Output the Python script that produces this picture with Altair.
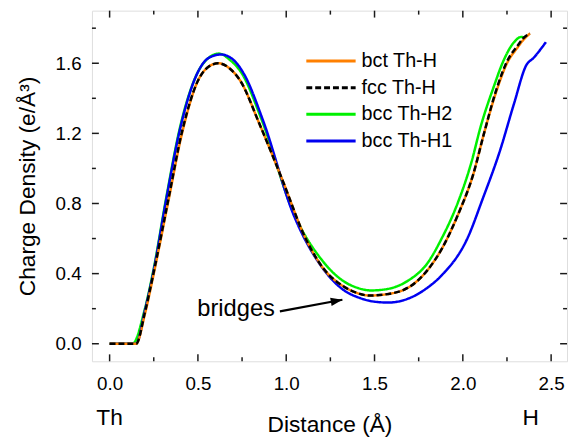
import altair as alt
import pandas as pd

# ---- data ----
series_names = ["bct Th-H", "fcc Th-H", "bcc Th-H2", "bcc Th-H1"]
series_colors = ["#FF8000", "#000000", "#00F000", "#0000F0"]

bct_x = [0.0, 0.15, 0.20, 0.25, 0.33, 0.41, 0.50, 0.56, 0.615, 0.68, 0.74, 0.85, 0.98, 1.11, 1.21, 1.32, 1.40, 1.47,
         1.55, 1.69, 1.80, 1.88, 1.97, 2.06, 2.12, 2.19, 2.25, 2.31, 2.34, 2.38]
bct_y = [0.0, 0.0, 0.17, 0.40, 0.80, 1.20, 1.50, 1.58, 1.60, 1.57, 1.50, 1.25, 0.93, 0.60, 0.43, 0.33, 0.29, 0.275,
         0.28, 0.32, 0.42, 0.54, 0.73, 0.97, 1.20, 1.44, 1.60, 1.69, 1.73, 1.77]

fcc_x = [0.0, 0.15, 0.20, 0.25, 0.33, 0.41, 0.50, 0.56, 0.615, 0.68, 0.74, 0.85, 0.98, 1.11, 1.21, 1.32, 1.40, 1.47,
         1.55, 1.69, 1.80, 1.88, 1.97, 2.06, 2.12, 2.19, 2.25, 2.31, 2.34, 2.38]
fcc_y = [0.0, 0.0, 0.18, 0.41, 0.81, 1.21, 1.50, 1.58, 1.60, 1.57, 1.50, 1.25, 0.93, 0.60, 0.43, 0.33, 0.29, 0.275,
         0.28, 0.32, 0.42, 0.54, 0.73, 0.97, 1.20, 1.45, 1.61, 1.70, 1.74, 1.77]

h2_x = [0.0, 0.13, 0.20, 0.25, 0.32, 0.40, 0.50, 0.56, 0.62, 0.68, 0.75, 0.86, 1.04, 1.20, 1.32, 1.40, 1.48, 1.56,
        1.69, 1.80, 1.88, 1.97, 2.05, 2.10, 2.18, 2.22, 2.29, 2.33, 2.35]
h2_y = [0.0, 0.0, 0.20, 0.43, 0.83, 1.24, 1.55, 1.63, 1.655, 1.62, 1.54, 1.28, 0.75, 0.48, 0.36, 0.32, 0.304, 0.31,
        0.36, 0.46, 0.60, 0.80, 1.04, 1.235, 1.48, 1.59, 1.72, 1.75, 1.745]

h1_x = [0.0, 0.15, 0.20, 0.25, 0.32, 0.40, 0.50, 0.56, 0.63, 0.70, 0.76, 0.87, 1.04, 1.20, 1.32, 1.42, 1.50, 1.58,
        1.69, 1.80, 1.88, 2.03, 2.11, 2.21, 2.29, 2.36, 2.40, 2.47]
h1_y = [0.0, 0.0, 0.19, 0.42, 0.82, 1.23, 1.55, 1.63, 1.65, 1.62, 1.54, 1.27, 0.74, 0.44, 0.31, 0.26, 0.24, 0.235,
        0.257, 0.32, 0.39, 0.61, 0.82, 1.10, 1.37, 1.59, 1.63, 1.72]

x_major = [0.0, 0.5, 1.0, 1.5, 2.0, 2.5]
x_minor = [0.25, 0.75, 1.25, 1.75, 2.25]
y_major = [0.0, 0.4, 0.8, 1.2, 1.6]
y_minor = [0.2, 0.6, 1.0, 1.4, 1.8]

end_labels_x = [0.0, 2.385]
end_labels_text = ["Th", "H"]

note_text = ["bridges"]
note_x = [0.716]
note_y = [0.20]
arrow_x = [0.964]
arrow_y = [0.185]
arrow_x2 = [1.318]
arrow_y2 = [0.251]

# ---- build tables ----
rows = []
for name, xs, ys in [("bct Th-H", bct_x, bct_y), ("fcc Th-H", fcc_x, fcc_y),
                     ("bcc Th-H2", h2_x, h2_y), ("bcc Th-H1", h1_x, h1_y)]:
    for i, (xv, yv) in enumerate(zip(xs, ys)):
        rows.append({"series": name, "x": xv, "y": yv, "order": i})
df = pd.DataFrame(rows)

W, H = 481, 355
FONT = "Liberation Sans"
FRAME = "#1a1a1a"
XDOM = [-0.1, 2.59]
YDOM = [-0.1, 1.9]

xscale = alt.Scale(domain=XDOM, nice=False, zero=False)
yscale = alt.Scale(domain=YDOM, nice=False, zero=False)

# legend: a wide custom stroke path keeps the rows compact
leg = alt.Legend(orient="none", legendX=213, legendY=41, title=None, symbolType="M-3,0L3,0",
                 symbolSize=277, symbolStrokeWidth=3, symbolOffset=19, symbolFillColor="transparent",
                 labelFontSize=20, labelFont=FONT, labelOffset=21, rowPadding=7, padding=0,
                 labelColor="#000")

color = alt.Color("series:N", scale=alt.Scale(domain=series_names, range=series_colors), legend=leg)
dash = alt.StrokeDash("series:N", scale=alt.Scale(domain=series_names, range=[[1, 0], [6, 3], [1, 0], [1, 0]]),
                      legend=leg)

xenc = alt.X("x:Q", scale=xscale,
             axis=alt.Axis(values=x_major, format=".1f", title="Distance (Å)", ticks=False, tickSize=0,
                           domain=False, grid=False, labelFontSize=19, titleFontSize=23, labelPadding=14,
                           titleY=71, titleBaseline="alphabetic", labelColor="#000", titleColor="#000",
                           titleFontWeight="normal", labelFont=FONT, titleFont=FONT))
yenc = alt.Y("y:Q", scale=yscale,
             axis=alt.Axis(values=y_major, format=".1f", title="Charge Density (e/Å³)", ticks=False, tickSize=0,
                           domain=False, grid=False, labelFontSize=19, titleFontSize=23, labelPadding=11,
                           titleX=-58, titleBaseline="alphabetic", labelColor="#000", titleColor="#000",
                           titleFontWeight="normal", labelFont=FONT, titleFont=FONT))


def line_layer(name):
    return alt.Chart(df).transform_filter(alt.datum.series == name).mark_line(
        strokeWidth=2.5, interpolate="monotone").encode(
        x=xenc, y=yenc, color=color, strokeDash=dash, order="order:Q")


lines = [line_layer("bcc Th-H2"), line_layer("bcc Th-H1"), line_layer("bct Th-H"), line_layer("fcc Th-H")]

# inward tick marks (tick length converted from pixels to data units)
px_x = (XDOM[1] - XDOM[0]) / W
px_y = (YDOM[1] - YDOM[0]) / H


def xtick_df(vals, length):
    recs = []
    for v in vals:
        recs.append({"x": v, "x2": v, "y": YDOM[0], "y2": YDOM[0] + length * px_y})
        recs.append({"x": v, "x2": v, "y": YDOM[1], "y2": YDOM[1] - length * px_y})
    return recs


def ytick_df(vals, length):
    recs = []
    for v in vals:
        recs.append({"x": XDOM[0], "x2": XDOM[0] + length * px_x, "y": v, "y2": v})
        recs.append({"x": XDOM[1], "x2": XDOM[1] - length * px_x, "y": v, "y2": v})
    return recs


tick_df = pd.DataFrame(xtick_df(x_major, 7) + xtick_df(x_minor, 4) + ytick_df(y_major, 7) + ytick_df(y_minor, 4))
ticks = alt.Chart(tick_df).mark_rule(color=FRAME, strokeWidth=1.5).encode(
    x=alt.X("x:Q", scale=xscale), x2="x2:Q", y=alt.Y("y:Q", scale=yscale), y2="y2:Q")

ends = alt.Chart(pd.DataFrame({"x": end_labels_x, "t": end_labels_text})).mark_text(
    fontSize=23, font=FONT, color="#000", baseline="alphabetic", align="center").encode(
    x=alt.X("x:Q", scale=xscale), y=alt.value(H + 65), text="t:N")

note = alt.Chart(pd.DataFrame({"x": note_x, "y": note_y, "t": note_text})).mark_text(
    fontSize=24, font=FONT, color="#000", baseline="middle", align="center").encode(
    x=alt.X("x:Q", scale=xscale), y=alt.Y("y:Q", scale=yscale), text="t:N")

adf = pd.DataFrame({"x": arrow_x, "y": arrow_y, "x2": arrow_x2, "y2": arrow_y2})
arrow_line = alt.Chart(adf).mark_rule(color="#000", strokeWidth=2.2).encode(
    x=alt.X("x:Q", scale=xscale), y=alt.Y("y:Q", scale=yscale), x2="x2:Q", y2="y2:Q")
arrow_head = alt.Chart(adf).mark_point(shape="M0,0 L-1,-0.36 L-1,0.36 Z", size=560, filled=True,
                                       color="#000", opacity=1, angle=349.5).encode(
    x=alt.X("x2:Q", scale=xscale), y=alt.Y("y2:Q", scale=yscale))

chart = alt.layer(*lines, ticks, ends, note, arrow_line, arrow_head).properties(
    width=W, height=H,
    autosize=alt.AutoSizeParams(type="none"),
    padding={"left": 85, "top": 0, "right": 2, "bottom": 75},
).configure_view(stroke=FRAME, strokeWidth=1.5).configure(font=FONT)

chart.save("out.html", embed_options={"renderer": "svg", "actions": False})
